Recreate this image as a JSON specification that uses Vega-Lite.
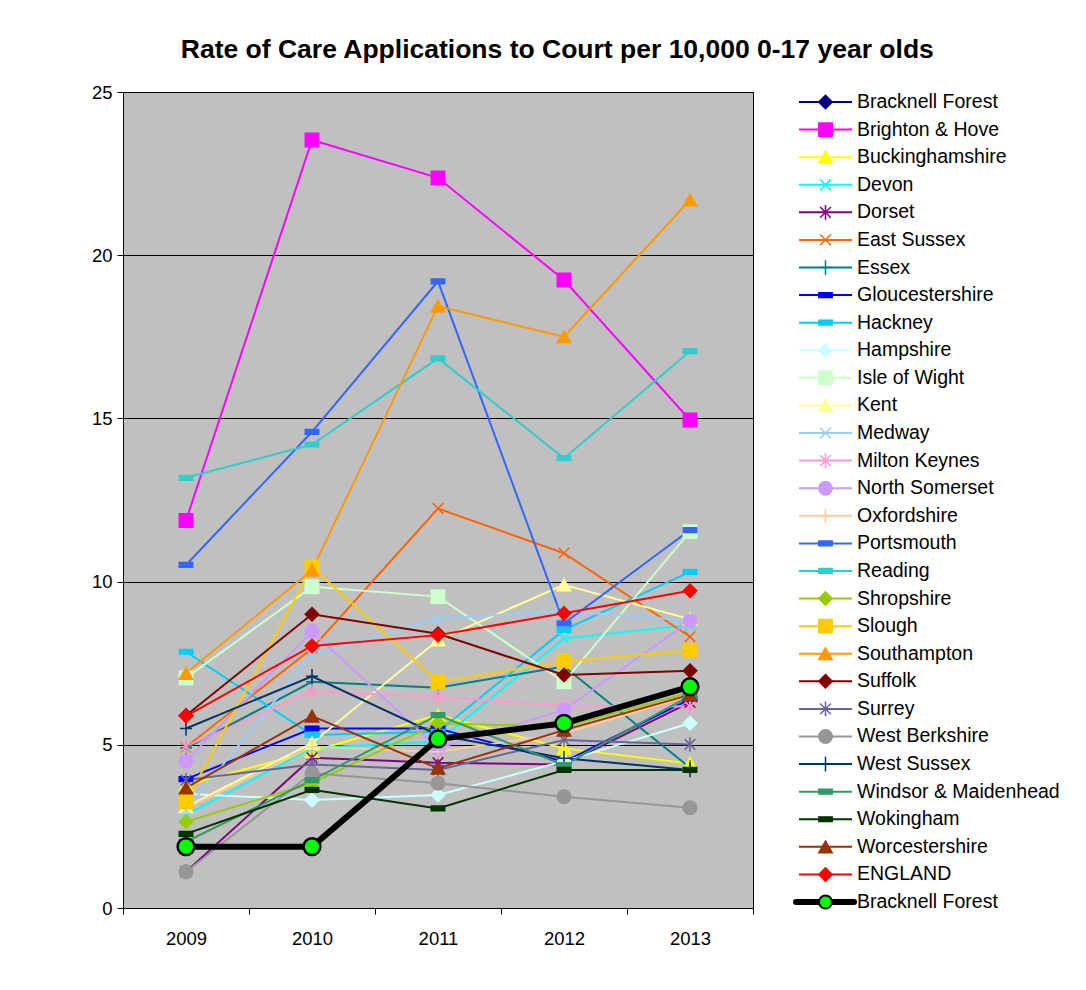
{
  "$schema": "https://vega.github.io/schema/vega-lite/v6.json",
  "autosize": {"type": "pad"},
  "padding": {"left": 90, "top": 37, "right": 0, "bottom": 0},
  "background": "white",
  "title": {"text": "Rate of Care Applications to Court per 10,000 0-17 year olds", "fontSize": 26.5, "fontWeight": "bold", "font": "Liberation Sans", "color": "black", "anchor": "middle", "offset": 19, "dx": -18},
  "config": {"font": "Liberation Sans"},
  "spacing": 39,
  "data": {"values": [
    {"series": "Bracknell Forest", "year": "2009", "value": 1.88},
    {"series": "Bracknell Forest", "year": "2010", "value": 1.88},
    {"series": "Bracknell Forest", "year": "2011", "value": 5.18},
    {"series": "Bracknell Forest", "year": "2012", "value": 5.66},
    {"series": "Bracknell Forest", "year": "2013", "value": 6.78},
    {"series": "Brighton & Hove", "year": "2009", "value": 11.87},
    {"series": "Brighton & Hove", "year": "2010", "value": 23.53},
    {"series": "Brighton & Hove", "year": "2011", "value": 22.37},
    {"series": "Brighton & Hove", "year": "2012", "value": 19.24},
    {"series": "Brighton & Hove", "year": "2013", "value": 14.95},
    {"series": "Buckinghamshire", "year": "2009", "value": 3.77},
    {"series": "Buckinghamshire", "year": "2010", "value": 4.8},
    {"series": "Buckinghamshire", "year": "2011", "value": 5.91},
    {"series": "Buckinghamshire", "year": "2012", "value": 4.89},
    {"series": "Buckinghamshire", "year": "2013", "value": 4.43},
    {"series": "Devon", "year": "2009", "value": 2.85},
    {"series": "Devon", "year": "2010", "value": 4.9},
    {"series": "Devon", "year": "2011", "value": 5.1},
    {"series": "Devon", "year": "2012", "value": 8.26},
    {"series": "Devon", "year": "2013", "value": 8.67},
    {"series": "Dorset", "year": "2009", "value": 1.11},
    {"series": "Dorset", "year": "2010", "value": 4.6},
    {"series": "Dorset", "year": "2011", "value": 4.45},
    {"series": "Dorset", "year": "2012", "value": 4.4},
    {"series": "Dorset", "year": "2013", "value": 6.3},
    {"series": "East Sussex", "year": "2009", "value": 4.93},
    {"series": "East Sussex", "year": "2010", "value": 7.95},
    {"series": "East Sussex", "year": "2011", "value": 12.24},
    {"series": "East Sussex", "year": "2012", "value": 10.87},
    {"series": "East Sussex", "year": "2013", "value": 8.31},
    {"series": "Essex", "year": "2009", "value": 4.9},
    {"series": "Essex", "year": "2010", "value": 6.93},
    {"series": "Essex", "year": "2011", "value": 6.75},
    {"series": "Essex", "year": "2012", "value": 7.4},
    {"series": "Essex", "year": "2013", "value": 4.3},
    {"series": "Gloucestershire", "year": "2009", "value": 3.95},
    {"series": "Gloucestershire", "year": "2010", "value": 5.5},
    {"series": "Gloucestershire", "year": "2011", "value": 5.5},
    {"series": "Gloucestershire", "year": "2012", "value": 4.48},
    {"series": "Gloucestershire", "year": "2013", "value": 6.4},
    {"series": "Hackney", "year": "2009", "value": 7.85},
    {"series": "Hackney", "year": "2010", "value": 5.3},
    {"series": "Hackney", "year": "2011", "value": 5.4},
    {"series": "Hackney", "year": "2012", "value": 8.52},
    {"series": "Hackney", "year": "2013", "value": 10.3},
    {"series": "Hampshire", "year": "2009", "value": 3.5},
    {"series": "Hampshire", "year": "2010", "value": 3.31},
    {"series": "Hampshire", "year": "2011", "value": 3.46},
    {"series": "Hampshire", "year": "2012", "value": 4.5},
    {"series": "Hampshire", "year": "2013", "value": 5.66},
    {"series": "Isle of Wight", "year": "2009", "value": 7.05},
    {"series": "Isle of Wight", "year": "2010", "value": 9.84},
    {"series": "Isle of Wight", "year": "2011", "value": 9.54},
    {"series": "Isle of Wight", "year": "2012", "value": 6.93},
    {"series": "Isle of Wight", "year": "2013", "value": 11.53},
    {"series": "Kent", "year": "2009", "value": 3.1},
    {"series": "Kent", "year": "2010", "value": 5.05},
    {"series": "Kent", "year": "2011", "value": 8.21},
    {"series": "Kent", "year": "2012", "value": 9.9},
    {"series": "Kent", "year": "2013", "value": 8.85},
    {"series": "Medway", "year": "2009", "value": 3.0},
    {"series": "Medway", "year": "2010", "value": 7.75},
    {"series": "Medway", "year": "2011", "value": 8.87},
    {"series": "Medway", "year": "2012", "value": 9.1},
    {"series": "Medway", "year": "2013", "value": 8.8},
    {"series": "Milton Keynes", "year": "2009", "value": 4.96},
    {"series": "Milton Keynes", "year": "2010", "value": 6.63},
    {"series": "Milton Keynes", "year": "2011", "value": 6.47},
    {"series": "Milton Keynes", "year": "2012", "value": 6.2},
    {"series": "Milton Keynes", "year": "2013", "value": 6.17},
    {"series": "North Somerset", "year": "2009", "value": 4.5},
    {"series": "North Somerset", "year": "2010", "value": 8.47},
    {"series": "North Somerset", "year": "2011", "value": 4.9},
    {"series": "North Somerset", "year": "2012", "value": 6.07},
    {"series": "North Somerset", "year": "2013", "value": 8.79},
    {"series": "Oxfordshire", "year": "2009", "value": 3.05},
    {"series": "Oxfordshire", "year": "2010", "value": 4.94},
    {"series": "Oxfordshire", "year": "2011", "value": 4.79},
    {"series": "Oxfordshire", "year": "2012", "value": 5.35},
    {"series": "Oxfordshire", "year": "2013", "value": 6.5},
    {"series": "Portsmouth", "year": "2009", "value": 10.51},
    {"series": "Portsmouth", "year": "2010", "value": 14.59},
    {"series": "Portsmouth", "year": "2011", "value": 19.2},
    {"series": "Portsmouth", "year": "2012", "value": 8.72},
    {"series": "Portsmouth", "year": "2013", "value": 11.58},
    {"series": "Reading", "year": "2009", "value": 13.18},
    {"series": "Reading", "year": "2010", "value": 14.2},
    {"series": "Reading", "year": "2011", "value": 16.84},
    {"series": "Reading", "year": "2012", "value": 13.78},
    {"series": "Reading", "year": "2013", "value": 17.06},
    {"series": "Shropshire", "year": "2009", "value": 2.64},
    {"series": "Shropshire", "year": "2010", "value": 3.83},
    {"series": "Shropshire", "year": "2011", "value": 5.66},
    {"series": "Shropshire", "year": "2012", "value": 5.55},
    {"series": "Shropshire", "year": "2013", "value": 6.6},
    {"series": "Slough", "year": "2009", "value": 3.26},
    {"series": "Slough", "year": "2010", "value": 10.45},
    {"series": "Slough", "year": "2011", "value": 6.93},
    {"series": "Slough", "year": "2012", "value": 7.55},
    {"series": "Slough", "year": "2013", "value": 7.9},
    {"series": "Southampton", "year": "2009", "value": 7.19},
    {"series": "Southampton", "year": "2010", "value": 10.35},
    {"series": "Southampton", "year": "2011", "value": 18.44},
    {"series": "Southampton", "year": "2012", "value": 17.5},
    {"series": "Southampton", "year": "2013", "value": 21.69},
    {"series": "Suffolk", "year": "2009", "value": 5.9},
    {"series": "Suffolk", "year": "2010", "value": 9.0},
    {"series": "Suffolk", "year": "2011", "value": 8.4},
    {"series": "Suffolk", "year": "2012", "value": 7.14},
    {"series": "Suffolk", "year": "2013", "value": 7.27},
    {"series": "Surrey", "year": "2009", "value": 3.92},
    {"series": "Surrey", "year": "2010", "value": 4.4},
    {"series": "Surrey", "year": "2011", "value": 4.23},
    {"series": "Surrey", "year": "2012", "value": 5.15},
    {"series": "Surrey", "year": "2013", "value": 5.01},
    {"series": "West Berkshire", "year": "2009", "value": 1.11},
    {"series": "West Berkshire", "year": "2010", "value": 4.13},
    {"series": "West Berkshire", "year": "2011", "value": 3.82},
    {"series": "West Berkshire", "year": "2012", "value": 3.41},
    {"series": "West Berkshire", "year": "2013", "value": 3.07},
    {"series": "West Sussex", "year": "2009", "value": 5.5},
    {"series": "West Sussex", "year": "2010", "value": 7.1},
    {"series": "West Sussex", "year": "2011", "value": 5.3},
    {"series": "West Sussex", "year": "2012", "value": 4.59},
    {"series": "West Sussex", "year": "2013", "value": 4.23},
    {"series": "Windsor & Maidenhead", "year": "2009", "value": 2.03},
    {"series": "Windsor & Maidenhead", "year": "2010", "value": 3.92},
    {"series": "Windsor & Maidenhead", "year": "2011", "value": 5.91},
    {"series": "Windsor & Maidenhead", "year": "2012", "value": 4.38},
    {"series": "Windsor & Maidenhead", "year": "2013", "value": 6.5},
    {"series": "Wokingham", "year": "2009", "value": 2.27},
    {"series": "Wokingham", "year": "2010", "value": 3.62},
    {"series": "Wokingham", "year": "2011", "value": 3.05},
    {"series": "Wokingham", "year": "2012", "value": 4.23},
    {"series": "Wokingham", "year": "2013", "value": 4.23},
    {"series": "Worcestershire", "year": "2009", "value": 3.68},
    {"series": "Worcestershire", "year": "2010", "value": 5.88},
    {"series": "Worcestershire", "year": "2011", "value": 4.28},
    {"series": "Worcestershire", "year": "2012", "value": 5.45},
    {"series": "Worcestershire", "year": "2013", "value": 6.53},
    {"series": "ENGLAND", "year": "2009", "value": 5.88},
    {"series": "ENGLAND", "year": "2010", "value": 8.03},
    {"series": "ENGLAND", "year": "2011", "value": 8.36},
    {"series": "ENGLAND", "year": "2012", "value": 9.03},
    {"series": "ENGLAND", "year": "2013", "value": 9.72},
    {"series": "Bracknell Forest ", "year": "2009", "value": 1.88},
    {"series": "Bracknell Forest ", "year": "2010", "value": 1.88},
    {"series": "Bracknell Forest ", "year": "2011", "value": 5.18},
    {"series": "Bracknell Forest ", "year": "2012", "value": 5.66},
    {"series": "Bracknell Forest ", "year": "2013", "value": 6.78}
  ]},
  "hconcat": [
    {
      "width": 630,
      "height": 816,
      "view": {"fill": "#C0C0C0", "stroke": "black", "strokeWidth": 1},
      "encoding": {
        "x": {"field": "year", "type": "ordinal", "scale": {"type": "band", "paddingInner": 0, "paddingOuter": 0},
              "axis": {"title": null, "labelAngle": 0, "labelFontSize": 18.5, "labelColor": "black", "labelPadding": 15, "tickBand": "extent", "tickSize": 6, "tickColor": "black", "domainColor": "black", "grid": false}},
        "y": {"field": "value", "type": "quantitative", "scale": {"domain": [0, 25], "nice": false},
              "axis": {"title": null, "values": [0, 5, 10, 15, 20, 25], "grid": true, "gridColor": "black", "gridOpacity": 1, "gridWidth": 1, "domainColor": "black", "tickColor": "black", "tickSize": 6, "labelFontSize": 18.5, "labelColor": "black", "labelPadding": 5}}
      },
      "layer": [
        {
          "transform": [{"filter": "datum.series !== 'Bracknell Forest '"}],
          "mark": {"type": "line", "strokeWidth": 2},
          "encoding": {
            "color": {"field": "series", "type": "nominal", "legend": null,
              "scale": {"domain": ["Bracknell Forest", "Brighton & Hove", "Buckinghamshire", "Devon", "Dorset", "East Sussex", "Essex", "Gloucestershire", "Hackney", "Hampshire", "Isle of Wight", "Kent", "Medway", "Milton Keynes", "North Somerset", "Oxfordshire", "Portsmouth", "Reading", "Shropshire", "Slough", "Southampton", "Suffolk", "Surrey", "West Berkshire", "West Sussex", "Windsor & Maidenhead", "Wokingham", "Worcestershire", "ENGLAND", "Bracknell Forest "],
                        "range": ["#000080", "#FF00FF", "#FFFF00", "#00FFFF", "#800080", "#FF6600", "#008080", "#0000FF", "#00CCFF", "#CCFFFF", "#CCFFCC", "#FFFF99", "#99CCFF", "#FF99CC", "#CC99FF", "#FFCC99", "#3366FF", "#33CCCC", "#99CC00", "#FFCC00", "#FF9900", "#800000", "#666699", "#969696", "#003366", "#339966", "#003300", "#993300", "#FF0000", "#000000"]}}
          }
        },
        {
          "transform": [{"filter": "datum.series !== 'Bracknell Forest '"}],
          "mark": {"type": "point", "filled": true, "size": 180, "strokeWidth": 1.5, "opacity": 1},
          "encoding": {
            "color": {"field": "series", "type": "nominal", "legend": null},
            "stroke": {"field": "series", "type": "nominal", "legend": null,
              "scale": {"domain": ["Bracknell Forest", "Brighton & Hove", "Buckinghamshire", "Devon", "Dorset", "East Sussex", "Essex", "Gloucestershire", "Hackney", "Hampshire", "Isle of Wight", "Kent", "Medway", "Milton Keynes", "North Somerset", "Oxfordshire", "Portsmouth", "Reading", "Shropshire", "Slough", "Southampton", "Suffolk", "Surrey", "West Berkshire", "West Sussex", "Windsor & Maidenhead", "Wokingham", "Worcestershire", "ENGLAND", "Bracknell Forest "],
                        "range": ["#000080", "#FF00FF", "#FFFF00", "#00FFFF", "#800080", "#FF6600", "#008080", "#0000FF", "#00CCFF", "#CCFFFF", "#CCFFCC", "#FFFF99", "#99CCFF", "#FF99CC", "#CC99FF", "#FFCC99", "#3366FF", "#33CCCC", "#99CC00", "#FFCC00", "#FF9900", "#800000", "#666699", "#969696", "#003366", "#339966", "#003300", "#993300", "#FF0000", "#000000"]}},
            "shape": {"field": "series", "type": "nominal", "legend": null,
              "scale": {"domain": ["Bracknell Forest", "Brighton & Hove", "Buckinghamshire", "Devon", "Dorset", "East Sussex", "Essex", "Gloucestershire", "Hackney", "Hampshire", "Isle of Wight", "Kent", "Medway", "Milton Keynes", "North Somerset", "Oxfordshire", "Portsmouth", "Reading", "Shropshire", "Slough", "Southampton", "Suffolk", "Surrey", "West Berkshire", "West Sussex", "Windsor & Maidenhead", "Wokingham", "Worcestershire", "ENGLAND", "Bracknell Forest "],
                        "range": ["diamond", "square", "triangle-up", "M-0.8,-0.8L0.8,0.8M-0.8,0.8L0.8,-0.8", "M-0.8,-0.8L0.8,0.8M-0.8,0.8L0.8,-0.8M0,-1.1L0,1.1", "M-0.8,-0.8L0.8,0.8M-0.8,0.8L0.8,-0.8", "M-0.9,0L0.9,0M0,-1.1L0,1.1", "M-1,-0.35H1V0.35H-1Z", "M-1,-0.35H1V0.35H-1Z", "diamond", "square", "triangle-up", "M-0.8,-0.8L0.8,0.8M-0.8,0.8L0.8,-0.8", "M-0.8,-0.8L0.8,0.8M-0.8,0.8L0.8,-0.8M0,-1.1L0,1.1", "circle", "M-0.9,0L0.9,0M0,-1.1L0,1.1", "M-1,-0.35H1V0.35H-1Z", "M-1,-0.35H1V0.35H-1Z", "diamond", "square", "triangle-up", "diamond", "M-0.8,-0.8L0.8,0.8M-0.8,0.8L0.8,-0.8M0,-1.1L0,1.1", "circle", "M-0.9,0L0.9,0M0,-1.1L0,1.1", "M-1,-0.35H1V0.35H-1Z", "M-1,-0.35H1V0.35H-1Z", "triangle-up", "diamond", "circle"]}}
          }
        },
        {
          "transform": [{"filter": "datum.series === 'Bracknell Forest '"}],
          "mark": {"type": "line", "strokeWidth": 6, "color": "black", "strokeJoin": "round"},
          "encoding": {}
        },
        {
          "transform": [{"filter": "datum.series === 'Bracknell Forest '"}],
          "mark": {"type": "point", "shape": "circle", "filled": true, "fill": "#00FF00", "stroke": "black", "strokeWidth": 2.5, "size": 280, "opacity": 1},
          "encoding": {}
        }
      ]
    },
    {
      "width": 260,
      "height": 820,
      "view": {"stroke": null, "fill": null},
      "transform": [{"filter": "datum.year === '2009'"}],
      "encoding": {
        "y": {"field": "series", "type": "nominal", "axis": null,
              "sort": ["Bracknell Forest", "Brighton & Hove", "Buckinghamshire", "Devon", "Dorset", "East Sussex", "Essex", "Gloucestershire", "Hackney", "Hampshire", "Isle of Wight", "Kent", "Medway", "Milton Keynes", "North Somerset", "Oxfordshire", "Portsmouth", "Reading", "Shropshire", "Slough", "Southampton", "Suffolk", "Surrey", "West Berkshire", "West Sussex", "Windsor & Maidenhead", "Wokingham", "Worcestershire", "ENGLAND", "Bracknell Forest "],
              "scale": {"type": "point", "padding": 0.3625}}
      },
      "layer": [
        {
          "transform": [{"filter": "datum.series !== 'Bracknell Forest '"}],
          "mark": {"type": "rule", "strokeWidth": 2},
          "encoding": {
            "x": {"datum": 0, "type": "quantitative", "scale": {"domain": [0, 26]}, "axis": null},
            "x2": {"datum": 5.3},
            "color": {"field": "series", "type": "nominal", "legend": null}
          }
        },
        {
          "transform": [{"filter": "datum.series !== 'Bracknell Forest '"}],
          "mark": {"type": "point", "filled": true, "size": 180, "strokeWidth": 1.5, "opacity": 1},
          "encoding": {
            "x": {"datum": 2.65, "type": "quantitative"},
            "color": {"field": "series", "type": "nominal", "legend": null},
            "stroke": {"field": "series", "type": "nominal", "legend": null},
            "shape": {"field": "series", "type": "nominal", "legend": null}
          }
        },
        {
          "transform": [{"filter": "datum.series === 'Bracknell Forest '"}],
          "mark": {"type": "rule", "strokeWidth": 6, "color": "black", "strokeCap": "round"},
          "encoding": {
            "x": {"datum": -0.3, "type": "quantitative"},
            "x2": {"datum": 5.5}
          }
        },
        {
          "transform": [{"filter": "datum.series === 'Bracknell Forest '"}],
          "mark": {"type": "point", "shape": "circle", "filled": true, "fill": "#00FF00", "stroke": "black", "strokeWidth": 2, "size": 170, "opacity": 1},
          "encoding": {
            "x": {"datum": 2.65, "type": "quantitative"}
          }
        },
        {
          "mark": {"type": "text", "align": "left", "baseline": "middle", "fontSize": 19.5, "color": "black", "font": "Liberation Sans"},
          "encoding": {
            "x": {"datum": 5.8, "type": "quantitative"},
            "text": {"field": "series"}
          }
        }
      ]
    }
  ]
}
